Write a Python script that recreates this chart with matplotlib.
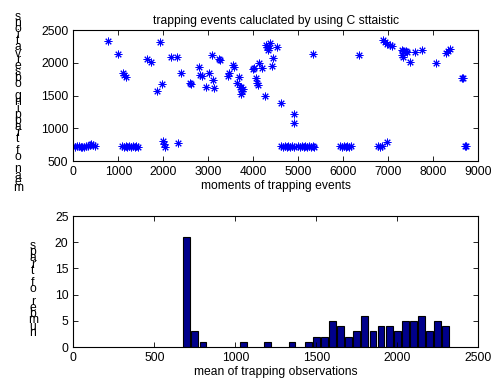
import matplotlib
matplotlib.use('Agg')
import matplotlib.pyplot as plt

plt.rcParams['font.family'] = ['Liberation Sans', 'DejaVu Sans']

# moments of trapping events (x) and C statistic (y)
event_x = [0, 40, 80, 120, 160, 200, 240, 280, 320, 360, 400, 440, 480,
           1080, 1120, 1160, 1200, 1240, 1280, 1320, 1360, 1400, 1440,
           1987, 2016, 2038, 2333,
           4620, 4660, 4700, 4740, 4780, 4820, 4860, 4900,
           5000, 5040, 5080, 5120, 5160, 5200, 5240, 5280, 5320, 5360,
           5930, 5970, 6010, 6050, 6090, 6130, 6170,
           6780, 6810, 6850, 6978, 8700, 8720,
           770, 990, 1100, 1130, 1170, 1640, 1720, 1853, 1927, 1978,
           2178, 2298, 2393, 2593, 2610, 2786, 2822, 2853, 2949, 3022,
           3089, 3111, 3133, 3231, 3250, 3431, 3467, 3542, 3571, 3644,
           3689, 3704, 3720, 3742, 3764, 3720, 3987, 4016, 4060, 4089,
           4111, 4133, 4187, 4260, 4282, 4298, 4333, 4371, 4356, 4431,
           4409, 4533, 4616, 4904, 4904, 5333, 6349, 6876, 6927, 6964,
           7038, 7076, 7298, 7333, 7393, 7298, 7333, 7409, 7482, 7593,
           7742, 8060, 8282, 8333, 8371, 8644, 8667]
event_y = [725, 720, 730, 725, 720, 715, 720, 730, 725, 740, 760, 745, 730,
           725, 720, 725, 720, 725, 720, 725, 720, 725, 720,
           800, 755, 718, 770,
           725, 720, 725, 720, 725, 720, 725, 720,
           725, 720, 725, 720, 725, 720, 725, 720, 725, 720,
           725, 720, 725, 720, 725, 720, 725,
           725, 720, 725, 786, 735, 725,
           2330, 2130, 1848, 1813, 1790, 2060, 2011, 1564, 2312, 1671,
           2083, 2083, 1848, 1695, 1680, 1940, 1808, 1800, 1625, 1848,
           2113, 1737, 1610, 2053, 2040, 1797, 1839, 1961, 1930, 1686,
           1787, 1634, 1625, 1573, 1595, 1523, 1900, 1915, 1763, 1686,
           1660, 1992, 1915, 1497, 2271, 2245, 2195, 2297, 2221, 2077,
           1950, 2245, 1381, 1218, 1085, 2129, 2118, 2347, 2312, 2282,
           2271, 2260, 2195, 2179, 2179, 2118, 2092, 2168, 2016, 2168,
           2195, 1992, 2144, 2179, 2210, 1772, 1762]

# histogram of trapping observation means
bin_centers = [700, 750, 800, 1050, 1200, 1350, 1450, 1500, 1550, 1600,
               1650, 1700, 1750, 1800, 1850, 1900, 1950, 2000, 2050, 2100,
               2150, 2200, 2250, 2300]
bin_counts = [21, 3, 1, 1, 1, 1, 1, 2, 2, 5,
              4, 2, 3, 6, 3, 4, 4, 3, 5, 5,
              6, 3, 5, 4]

FS = 8.75

fig = plt.figure(figsize=(4.96, 3.81), dpi=100)
ax1 = fig.add_axes([0.1478, 0.5774, 0.8165, 0.3438])
ax2 = fig.add_axes([0.1478, 0.0892, 0.8165, 0.3438])

ax1.plot(event_x, event_y, linestyle='none', marker=(8, 2, 0),
         markersize=5.5, markeredgewidth=0.7, color=(0, 0, 1))
ax1.set_xlim(0, 9000)
ax1.set_ylim(500, 2500)
ax1.set_xticks(range(0, 9001, 1000))
ax1.set_yticks(range(500, 2501, 500))
ax1.set_title('trapping events caluclated by using C sttaistic', fontsize=FS, pad=4)
ax1.set_xlabel('moments of trapping events', fontsize=FS, labelpad=1.5)

ax2.bar(bin_centers, bin_counts, width=42, color=(0, 0, 0.55),
        edgecolor='black', linewidth=0.8)
ax2.set_xlim(0, 2500)
ax2.set_ylim(0, 25)
ax2.set_xticks(range(0, 2501, 500))
ax2.set_yticks(range(0, 26, 5))
ax2.set_xlabel('mean of trapping observations', fontsize=FS, labelpad=1.5)

for ax in (ax1, ax2):
    ax.tick_params(direction='in', top=True, right=True, length=3.5,
                   width=0.6, labelsize=FS, pad=3.5)
    for s in ax.spines.values():
        s.set_linewidth(0.8)

# MATLAB-style stacked y labels, one upright character per line
def stacked_label(text, x_px, top_px, step_px):
    for i, ch in enumerate(reversed(text)):
        y_px = top_px + i * step_px
        fig.text(x_px / 496, 1 - y_px / 381, ch, fontsize=FS,
                 ha='center', va='center')

stacked_label('mean of trapping observations', 18, 17, 6.1)
stacked_label('number of traps', 33, 246, 6.2)

fig.savefig('out.png', dpi=100)
